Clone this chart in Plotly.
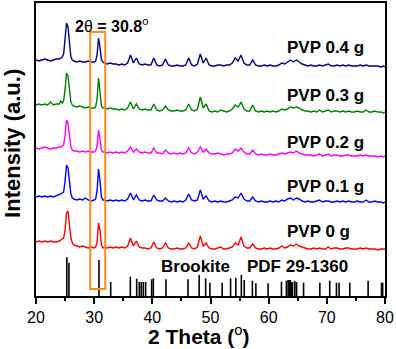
import plotly.graph_objects as go

# ---- shared 2-theta grid (degrees) ----
two_theta = [
    20.0, 20.5, 21.0, 21.5, 22.0, 22.5, 23.0, 23.5, 24.0,
    24.25, 24.5, 24.75, 25.0, 25.25, 25.5, 25.75, 26.0, 26.25, 26.5,
    27.0, 27.5, 28.0, 28.5, 29.0, 29.5, 30.0,
    30.25, 30.5, 30.75, 31.0, 31.25, 31.5,
    31.75, 32.25, 32.75, 33.25, 33.75, 34.25, 34.75, 35.25, 35.75, 36.25,
    36.75, 37.25, 37.75, 38.25, 38.75, 39.25, 39.75, 40.25, 40.75, 41.25,
    41.75, 42.25, 42.75, 43.25, 43.75, 44.25, 44.75, 45.25, 45.75, 46.25,
    46.75, 47.25, 47.75, 48.25, 48.75, 49.25, 49.75, 50.25, 50.75, 51.25,
    51.75, 52.25, 52.75, 53.25, 53.75, 54.25, 54.75, 55.25, 55.75, 56.25,
    56.75, 57.25, 57.75, 58.25, 58.75, 59.25, 59.75, 60.25, 60.75, 61.25,
    61.75, 62.25, 62.75, 63.25, 63.75, 64.25, 64.75, 65.25, 65.75, 66.25,
    66.75, 67.25, 67.75, 68.25, 68.75, 69.25, 69.75, 70.25, 70.75, 71.25,
    71.75, 72.25, 72.75, 73.25, 73.75, 74.25, 74.75, 75.25, 75.75, 76.25,
    76.75, 77.25, 77.75, 78.25, 78.75, 79.25, 79.75, 80.0,
]

# ---- intensities (a.u.) ----
pvp_0 = [
    8, 9, 8, 9, 8, 9, 8, 8, 9,
    10, 11, 12, 20, 37, 39, 28, 12, 7, 5,
    4, 3, 4, 3, 2, 3, 2,
    3, 8, 27, 20, 5, 2,
    3, 2, 3, 2, 3, 2, 3, 2, 4, 12,
    4, 9, 3, 2, 2, 1, 2, 8, 2, 1,
    2, 7, 2, 1, 1, 2, 1, 1, 2, 7,
    2, 1, 3, 14, 4, 7, 2, 1, 1, 2,
    3, 1, 1, 2, 3, 7, 5, 13, 4, 2,
    2, 6, 2, 1, 1, 2, 1, 2, 1, 1,
    2, 4, 2, 3, 5, 4, 6, 4, 3, 2,
    1, 1, 2, 1, 2, 1, 1, 3, 1, 2,
    2, 1, 1, 2, 2, 1, 1, 1, 2, 1,
    2, 1, 1, 1, 0, 1, 1, 1,
]
pvp_01 = [
    6, 7, 6, 7, 6, 7, 6, 7, 8,
    9, 10, 11, 22, 38, 35, 22, 9, 5, 4,
    3, 4, 3, 5, 3, 2, 3,
    4, 12, 34, 22, 6, 3,
    3, 2, 3, 2, 3, 2, 3, 2, 4, 10,
    3, 8, 3, 2, 3, 2, 2, 8, 3, 2,
    2, 5, 2, 1, 2, 1, 2, 1, 3, 9,
    3, 2, 3, 13, 4, 7, 2, 1, 2, 1,
    2, 1, 1, 2, 3, 6, 5, 10, 4, 2,
    2, 6, 2, 1, 2, 1, 1, 2, 1, 2,
    1, 3, 2, 4, 5, 3, 5, 4, 2, 1,
    2, 1, 1, 2, 3, 1, 2, 2, 1, 1,
    2, 1, 2, 1, 2, 1, 1, 2, 1, 1,
    3, 1, 1, 2, 1, 1, 0, 1,
]
pvp_02 = [
    9, 8, 9, 10, 9, 8, 9, 9, 10,
    10, 11, 12, 22, 37, 34, 22, 10, 7, 6,
    6, 5, 6, 5, 6, 5, 5,
    6, 11, 27, 18, 7, 5,
    5, 4, 5, 4, 5, 4, 5, 4, 6, 10,
    5, 8, 5, 4, 5, 4, 4, 9, 4, 4,
    3, 7, 4, 3, 4, 3, 4, 3, 4, 9,
    4, 3, 5, 10, 5, 8, 4, 3, 3, 4,
    3, 2, 3, 3, 4, 8, 6, 9, 5, 3,
    3, 7, 3, 2, 3, 2, 2, 3, 2, 2,
    3, 4, 3, 4, 5, 4, 6, 4, 3, 2,
    2, 2, 1, 2, 3, 1, 2, 3, 1, 2,
    2, 1, 1, 2, 2, 1, 1, 1, 2, 1,
    2, 1, 1, 1, 0, 1, 0, 1,
]
pvp_03 = [
    8, 9, 8, 9, 8, 11, 8, 9, 9,
    12, 10, 12, 24, 40, 37, 24, 11, 8, 7,
    6, 7, 6, 5, 6, 5, 5,
    6, 14, 35, 22, 7, 5,
    5, 4, 5, 4, 4, 3, 4, 3, 5, 11,
    4, 9, 4, 3, 4, 3, 3, 9, 3, 2,
    3, 7, 3, 2, 2, 3, 2, 2, 3, 9,
    3, 2, 4, 16, 5, 9, 2, 1, 2, 1,
    3, 2, 1, 2, 4, 8, 6, 11, 4, 2,
    2, 8, 2, 1, 2, 1, 2, 1, 2, 1,
    2, 4, 3, 4, 6, 5, 6, 5, 3, 2,
    2, 1, 2, 1, 3, 1, 2, 3, 1, 2,
    2, 1, 2, 1, 2, 1, 1, 2, 1, 1,
    3, 1, 1, 2, 1, 1, 0, 1,
]
pvp_04 = [
    7, 6, 7, 8, 7, 6, 7, 8, 8,
    9, 10, 13, 26, 44, 40, 25, 10, 7, 6,
    5, 6, 5, 5, 6, 5, 5,
    6, 12, 29, 20, 7, 5,
    4, 3, 4, 3, 3, 2, 3, 2, 4, 12,
    4, 9, 3, 2, 3, 2, 2, 9, 2, 1,
    2, 8, 2, 1, 1, 2, 1, 1, 2, 9,
    2, 1, 3, 13, 4, 9, 2, 1, 1, 2,
    2, 1, 2, 2, 4, 9, 6, 12, 4, 2,
    2, 7, 2, 1, 1, 2, 1, 2, 1, 1,
    2, 4, 3, 5, 7, 5, 7, 5, 3, 2,
    1, 2, 1, 1, 2, 1, 2, 3, 1, 1,
    2, 1, 2, 1, 2, 1, 1, 1, 2, 1,
    2, 1, 1, 1, 1, 0, 1, 0,
]

series_names = ["PVP 0 g", "PVP 0.1 g", "PVP 0.2 g", "PVP 0.3 g", "PVP 0.4 g"]
series_values = [pvp_0, pvp_01, pvp_02, pvp_03, pvp_04]
series_offsets = [46, 93, 139, 183, 229]
series_colors = ["#FF0000", "#0000FF", "#FF00FF", "#008000", "#000080"]

# ---- Brookite reference pattern (PDF 29-1360) ----
ref_pos = [25.3, 25.67, 30.83, 32.84, 36.22, 37.31, 37.76, 38.1, 38.45, 38.85,
           39.88, 40.17, 42.35, 46.13, 48.05, 49.17, 49.9, 52.0, 53.45, 54.35,
           55.3, 55.8, 57.2, 57.8, 59.9, 62.2, 63.05, 63.35, 63.55, 63.7,
           63.95, 64.1, 64.5, 64.8, 66.0, 68.8, 70.5, 71.65, 72.1, 73.95,
           77.1, 79.4, 79.6]
ref_int = [38.7, 33.3, 36, 14, 19.3, 17.3, 14, 14, 14, 14,
           16.7, 17.7, 16.7, 16.7, 21, 17.7, 13.3, 13.3, 17.7, 18.3,
           21, 16, 15.3, 12.7, 12.7, 14.3, 15.3, 16, 16, 16,
           14, 14, 15, 14, 13.3, 13.3, 15.3, 13.3, 13.3, 13.3,
           15.3, 13.3, 13.3]

FONT = "Arial, Liberation Sans, sans-serif"

fig = go.Figure()

# reference sticks
sx, sy = [], []
for p, h in zip(ref_pos, ref_int):
    sx += [p, p, None]
    sy += [0, h, None]
fig.add_trace(go.Scatter(x=sx, y=sy, mode="lines",
                         line=dict(color="black", width=1.6),
                         hoverinfo="skip", showlegend=False))

for name, vals, off, col in zip(series_names, series_values, series_offsets, series_colors):
    fig.add_trace(go.Scatter(x=two_theta, y=[v + off for v in vals], mode="lines",
                             name=name, line=dict(color=col, width=1.4),
                             showlegend=False))

# highlight box around the 30.8 deg peak
fig.add_shape(type="rect", x0=29.33, x1=31.9, y0=7, y1=264,
              line=dict(color="#FF8C1A", width=2), fillcolor="rgba(0,0,0,0)")

label_y = [65, 110, 154, 201, 249]
for name, yy in zip(series_names, label_y):
    fig.add_annotation(x=62.8, y=yy, text="<b>" + name + "</b>", showarrow=False,
                       xanchor="left", yanchor="middle",
                       font=dict(size=17, family=FONT, color="black"))

fig.add_annotation(x=47.5, y=30, text="<b>Brookite</b>", showarrow=False,
                   xanchor="center", yanchor="middle",
                   font=dict(size=17, family=FONT, color="black"))
fig.add_annotation(x=64.95, y=30, text="<b>PDF 29-1360</b>", showarrow=False,
                   xanchor="center", yanchor="middle",
                   font=dict(size=17, family=FONT, color="black"))
fig.add_annotation(x=32.9, y=271, text="<b>2</b>θ<b> = 30.8</b><sup>o</sup>", showarrow=False,
                   xanchor="center", yanchor="middle",
                   font=dict(size=16, family=FONT, color="black"))

# axis titles
fig.add_annotation(xref="paper", yref="paper", x=-0.068, y=0.52,
                   text="<b>Intensity (a.u.)</b>", textangle=-90, showarrow=False,
                   xanchor="center", yanchor="middle",
                   font=dict(size=22, family=FONT, color="black"))
fig.add_annotation(xref="paper", yref="paper", x=0.467, y=-0.133,
                   text="<b>2 Theta (</b><sup>o</sup><b>)</b>", showarrow=False,
                   xanchor="center", yanchor="middle",
                   font=dict(size=21, family=FONT, color="black"))

fig.update_layout(
    width=396, height=349,
    margin=dict(l=36, r=11, t=3, b=53, autoexpand=False),
    plot_bgcolor="white", paper_bgcolor="white",
    showlegend=False,
    font=dict(family=FONT, color="black"),
)
fig.update_xaxes(range=[20, 80], tick0=20, dtick=10, ticks="outside", ticklen=6,
                 tickwidth=1.5, tickcolor="black",
                 minor=dict(dtick=5, ticks="outside", ticklen=3, tickwidth=1.5, tickcolor="black"),
                 showline=True, linewidth=2, linecolor="black", mirror=True,
                 showgrid=False, zeroline=False,
                 tickfont=dict(size=16, family=FONT, color="black"))
fig.update_yaxes(range=[0, 293], showticklabels=False, ticks="",
                 showline=True, linewidth=2, linecolor="black", mirror=True,
                 showgrid=False, zeroline=False)

fig.write_html("out.html", config={"displayModeBar": False},
               post_script="document.body.style.margin='0';document.body.style.padding='0';")
